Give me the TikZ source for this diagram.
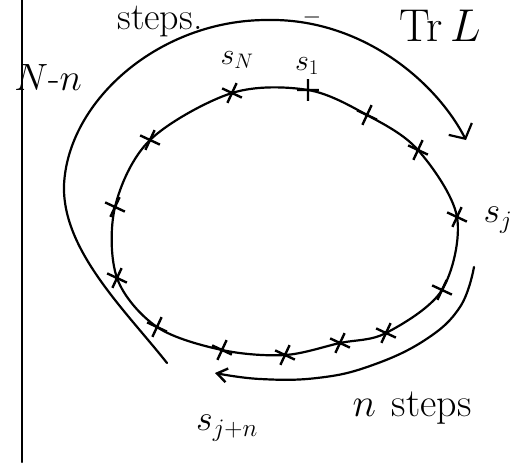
\RequirePackage{fix-cm}
\documentclass[tikz,border=0pt]{standalone}
\usetikzlibrary{shapes.misc,arrows.meta}
\begin{document}
\begin{tikzpicture}[x=1pt,y=-1pt,
  ink/.style={line width=2.2pt,line cap=round,line join=round},
  site/.style={cross out,draw,line width=2.4pt,minimum size=13pt,inner sep=0pt,rotate=20},
  lab/.style={font=\fontsize{38}{44}\selectfont,inner sep=0pt},
  slab/.style={font=\fontsize{30}{36}\selectfont,inner sep=0pt}]
\useasboundingbox (0,0) rectangle (531,466);
% page edge
\coordinate (et) at (22,-2);
\coordinate (eb) at (22,462);
\draw[ink] (et) -- (eb);
% sites on the inner loop
\node[site] (p1) at (232,93) {};
\node[site,rotate=25] (p2) at (308,90) {};
\node[site] (p3) at (367,115) {};
\node[site] (p4) at (418,150) {};
\node[site] (p5) at (457,217) {};
\node[site] (p6) at (442,290) {};
\node[site] (p7) at (386,333) {};
\node[site] (p8) at (340,343) {};
\node[site] (p9) at (285,355) {};
\node[site] (p10) at (222,350) {};
\node[site] (p11) at (157,327) {};
\node[site] (p12) at (117,278) {};
\node[site] (p13) at (115,207) {};
\node[site] (p14) at (150,140) {};
\draw[ink] plot[smooth cycle,tension=0.55] coordinates {(p1.center) (p2.center) (p3.center) (p4.center) (p5.center) (p6.center) (p7.center) (p8.center) (p9.center) (p10.center) (p11.center) (p12.center) (p13.center) (p14.center)};
% outer arc: N-n steps
\coordinate (oa) at (167,363);
\coordinate (ol) at (64,185);
\coordinate (ot) at (267,20);
\coordinate (oe) at (466,140);
\draw[ink,-{Straight Barb[length=11pt,width=26pt,line width=2.2pt]}]
  (oa) .. controls (125,310) and (62,250) .. (ol)
       .. controls (68,100) and (160,20) .. (ot)
       .. controls (360,18) and (435,80) .. (oe);
% inner arrow: n steps
\coordinate (ia) at (474,267);
\coordinate (ie) at (215,373);
\draw[ink,-{Straight Barb[length=10pt,width=14pt,line width=2.4pt]}] plot[smooth,tension=0.7] coordinates {(ia) (460,307) (425,340) (370,366) (317,378) (260,379) (ie)};
% labels
\node[lab,anchor=north] (steps) at (160,6) {steps.};
\node[lab,font=\fontsize{24}{26}\selectfont] (dash) at (312,17) {$-$};
\node[lab,font=\fontsize{46}{50}\selectfont,anchor=base] (trl) at (440,41) {$\mathrm{Tr}\,L$};
\node[lab] (nn) at (48,78) {$N$-$n$};
\node[slab] (sN) at (237,60) {$s_N$};
\node[slab] (s1) at (307,66) {$s_1$};
\node[slab,font=\fontsize{36}{40}\selectfont] (sj) at (498,220) {$s_j$};
\node[slab,font=\fontsize{36}{40}\selectfont] (sjn) at (227,428) {$s_{j+n}$};
\node[lab,font=\fontsize{40}{44}\selectfont] (nsteps) at (412,408) {$n$\hspace{0.4em}steps};
\end{tikzpicture}
\end{document}
